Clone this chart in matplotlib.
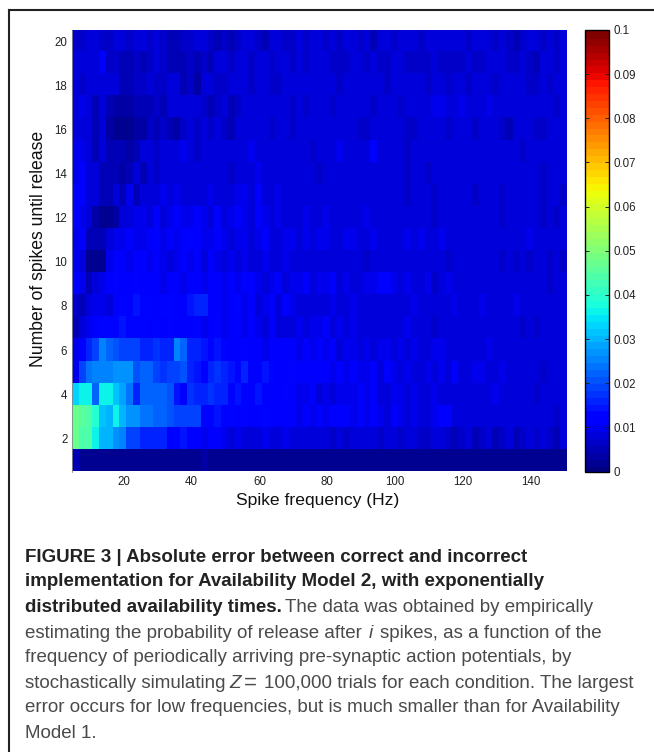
import numpy as np
import matplotlib
matplotlib.use('Agg')
import matplotlib.pyplot as plt
from matplotlib.lines import Line2D

plt.rcParams['font.family'] = ['Liberation Sans', 'DejaVu Sans']

# error values in units of 0.001, one entry per 2 Hz
row_01 = [6,2,2,2,2,3,3,2,3,3, 3,2,3,2,3,3,3,2,3,4, 3,2,2,2,2,3,2,2,2,2, 2,2,2,2,2,2,2,2,2,3, 2,2,2,2,2,2,2,2,2,2, 2,2,2,2,2,2,2,2,2,2, 2,2,2,2,2,2,2,2,2,2, 2,2,2]
row_02 = [48,45,44,36,31,30,27,25,20,19, 17,16,16,16,11,14,15,12,12,10, 11,12,10,9,10,9,9,8,10,9, 9,10,9,8,8,8,9,8,7,8, 7,8,9,8,8,7,8,8,7,8, 8,7,7,8,8,7,6,7,8,6, 7,8,6,7,8,6,7,8,7,8, 7,6,8]
row_03 = [47,46,45,40,32,31,37,30,28,28, 24,24,23,23,21,19,19,19,19,14, 13,15,12,14,11,13,12,11,13,12, 11,12,12,10,11,10,11,10,11,12, 11,10,11,10,11,10,9,11,10,9, 10,9,9,10,11,11,9,9,8,9, 8,9,8,8,9,8,9,8,8,9, 9,7,8]
row_04 = [33,37,36,23,37,37,32,29,24,17, 23,23,23,22,21,15,12,18,17,17, 18,17,16,14,15,13,11,15,12,11, 12,13,11,10,10,11,9,10,9,10, 10,10,11,10,11,9,9,10,10,9, 10,9,8,10,9,9,9,8,9,9, 9,8,10,8,9,8,9,8,7,9, 8,8,9]
row_05 = [10,19,24,25,25,26,27,28,28,21, 23,22,20,18,20,19,21,17,15,11, 17,18,16,15,14,17,12,11,15,13, 12,11,13,11,12,11,12,11,10,11, 10,11,10,10,11,9,11,10,9,10, 9,9,10,9,10,9,11,9,9,10, 10,9,8,10,9,9,8,9,8,7, 8,8,9]
row_06 = [10,11,17,19,26,22,21,19,19,19, 16,17,18,17,16,26,23,17,16,15, 14,15,13,11,12,14,11,12,10,12, 11,12,11,10,11,10,11,10,11,9, 10,10,9,10,8,10,10,9,10,9, 10,9,9,10,10,8,9,9,9,8, 9,10,9,8,9,8,9,9,8,8, 9,8,9]
row_07 = [6,9,10,12,13,14,14,15,13,13, 14,12,13,12,13,12,11,12,13,10, 11,13,10,12,11,10,12,10,9,11, 9,8,9,10,9,10,10,11,9,10, 9,10,9,9,8,9,9,9,8,10, 8,9,9,7,9,8,9,8,8,9, 8,8,9,8,9,8,7,8,7,8, 9,8,8]
row_08 = [7,6,9,10,10,9,11,13,12,15, 14,13,11,13,14,11,12,15,16,16, 12,11,10,11,13,10,11,9,10,11, 9,11,10,8,9,8,9,9,10,9, 9,10,8,9,9,8,8,9,8,8, 10,9,8,8,8,9,10,9,8,8, 10,9,9,8,9,10,9,8,8,9, 8,8,8]
row_09 = [11,10,6,9,10,11,13,12,11,13, 11,12,12,10,12,12,10,11,11,10, 12,11,10,11,10,11,11,10,9,10, 11,9,10,10,11,9,10,10,11,9, 10,9,9,10,10,11,11,10,9,10, 8,9,10,7,8,10,9,8,9,9, 8,9,9,8,9,8,9,8,9,8, 7,8,8]
row_10 = [10,9,3,3,3,10,11,12,10,11, 11,10,11,10,9,10,11,10,11,9, 11,10,9,10,9,10,9,9,10,8, 9,10,9,8,8,9,8,8,8,8, 9,9,8,7,9,8,8,9,8,8, 8,9,8,9,8,7,8,9,8,8, 9,8,8,7,8,7,8,7,8,8, 7,8,7]
row_11 = [10,11,5,5,6,9,10,10,11,10, 10,12,11,10,11,10,11,11,12,10, 10,11,10,9,10,10,9,10,11,9, 9,10,10,8,10,9,10,10,9,9, 10,10,9,9,10,8,9,9,9,10, 9,10,9,8,10,9,8,9,9,8, 9,8,9,8,9,9,9,10,9,8, 9,9,8]
row_12 = [11,10,9,4,3,3,4,8,9,10, 10,9,11,9,10,11,10,10,12,10, 9,11,9,10,11,10,9,11,10,9, 10,9,8,9,10,9,8,10,9,8, 9,8,9,10,9,8,9,9,8,9, 9,9,8,7,9,9,8,9,9,8, 9,8,8,7,9,8,8,9,8,7, 8,7,8]
row_13 = [11,11,9,9,6,6,9,5,10,6, 8,8,9,10,9,10,8,9,8,8, 10,9,8,9,10,10,9,11,9,9, 10,9,8,9,8,9,8,9,8,8, 9,8,8,9,8,8,9,9,8,7, 8,8,8,7,8,8,8,8,8,7, 8,9,8,7,8,8,9,8,8,7, 8,8,7]
row_14 = [10,11,8,9,6,5,5,4,5,8, 5,8,7,8,8,9,9,9,8,9, 8,9,8,7,9,9,8,10,8,9, 8,9,8,8,9,8,7,8,9,8, 8,9,8,9,8,9,8,8,9,7, 8,8,7,8,8,9,9,8,8,8, 8,9,8,9,8,8,9,8,8,7, 8,9,8]
row_15 = [10,10,9,6,8,6,6,6,4,5, 8,9,7,8,8,9,10,9,7,8, 9,8,8,9,8,8,10,9,8,9, 8,8,9,8,8,7,9,8,9,10, 9,9,8,9,11,9,8,9,8,7, 9,8,8,8,8,9,8,8,8,9, 9,8,9,8,8,8,7,8,8,9, 8,8,9]
row_16 = [8,9,9,6,8,4,3,3,3,4, 4,7,5,7,5,4,7,8,7,8, 7,9,7,5,9,8,9,8,8,7, 8,8,7,9,8,8,9,8,8,9, 8,8,7,7,9,8,8,9,8,7, 7,8,8,9,8,7,8,9,8,7, 9,8,8,7,6,8,8,9,7,7, 8,9,8]
row_17 = [9,10,9,6,8,6,4,4,4,5, 6,5,7,5,8,9,8,8,9,7, 5,7,9,5,7,8,8,9,8,8, 9,8,7,8,7,8,9,8,7,8, 8,9,8,8,7,9,8,8,7,8, 9,8,9,10,10,9,9,10,9,9, 9,10,9,8,9,8,9,9,9,8, 8,7,8]
row_18 = [8,7,9,8,8,8,9,6,5,7, 7,9,7,7,8,9,5,7,4,8, 9,7,7,8,9,8,7,9,8,7, 7,8,9,8,8,9,8,9,8,7, 8,8,9,8,8,8,7,9,8,8, 9,8,7,8,8,7,8,9,7,8, 8,8,7,8,8,9,8,7,7,8, 7,8,9]
row_19 = [8,8,9,9,11,7,7,5,6,7, 5,7,8,7,5,5,5,7,5,7, 5,8,9,7,8,8,7,8,8,7, 8,8,7,9,7,8,8,8,7,7, 7,8,8,7,8,7,7,8,8,7, 7,7,7,8,7,7,7,7,8,7, 7,8,8,8,7,7,8,7,6,8, 8,7,8]
row_20 = [7,7,8,8,7,7,9,8,7,8, 8,7,8,7,5,5,7,7,8,9, 7,5,7,5,7,8,8,7,5,8, 9,7,7,8,7,8,8,7,8,7, 8,8,7,8,6,8,8,7,8,8, 8,7,8,8,8,8,8,8,7,8, 8,8,7,8,7,6,7,8,8,7, 8,7,8]

x_ticks = [20, 40, 60, 80, 100, 120, 140]
y_ticks = [2, 4, 6, 8, 10, 12, 14, 16, 18, 20]
cbar_ticks = [0, 0.01, 0.02, 0.03, 0.04, 0.05, 0.06, 0.07, 0.08, 0.09, 0.1]
cbar_labels = ['0', '0.01', '0.02', '0.03', '0.04', '0.05', '0.06', '0.07', '0.08', '0.09', '0.1']

W, H = 654, 752
BODY = '#4a4a4a'
FS = 13.5


def px_text(fig, x, y, s, **kw):
    return fig.text(x / W, 1 - y / H, s, va='center', ha='left', **kw)


grid = np.array([row_01, row_02, row_03, row_04, row_05, row_06, row_07, row_08, row_09, row_10,
                 row_11, row_12, row_13, row_14, row_15, row_16, row_17, row_18, row_19, row_20]) / 1000.0

fig = plt.figure(figsize=(W / 100, H / 100), dpi=100)
ax = fig.add_axes([71.5 / W, 1 - 471.5 / H, 494.5 / W, 441.5 / H])
cax = fig.add_axes([585 / W, 1 - 471.5 / H, 24 / W, 441.5 / H])

im = ax.imshow(grid, origin='lower', aspect='auto', cmap=plt.get_cmap('jet', 64), vmin=0, vmax=0.1,
               extent=[4.5, 150.5, 0.5, 20.5], interpolation='nearest')
ax.set_xticks(x_ticks)
ax.set_yticks(y_ticks)
ax.tick_params(length=0, labelsize=8.3, colors='#222222', pad=3)
for s in ax.spines.values():
    s.set_visible(False)
ax.spines['left'].set_visible(True)
ax.spines['left'].set_color('#888888')
ax.spines['left'].set_linewidth(0.6)

fig.text(318 / W, 1 - 500 / H, 'Spike frequency (Hz)', ha='center', va='center', fontsize=12.6, color='#111111')
fig.text(39 / W, 1 - 249 / H, 'Number of spikes until release', ha='center', va='center', rotation=90,
         fontsize=12.7, color='#111111')

cb = fig.colorbar(im, cax=cax)
cb.set_ticks(cbar_ticks)
cb.set_ticklabels(cbar_labels)
cb.solids.set_edgecolor('face')
cb.outline.set_linewidth(1.0)
cax.tick_params(direction='in', length=3, width=0.7, left=True, right=True, labelsize=8.3, pad=3, colors='#222222')

# page frame of the figure panel
fig.add_artist(Line2D([9 / W, 9 / W], [0, 1 - 10 / H], color='#222222', lw=1.5))
fig.add_artist(Line2D([8.5 / W, 1], [1 - 10 / H, 1 - 10 / H], color='#222222', lw=1.5))

bold = dict(fontsize=FS, fontweight='bold', color='#222222')
body = dict(fontsize=FS, color=BODY)
px_text(fig, 25, 557, 'FIGURE 3 | Absolute error between correct and incorrect', **bold)
px_text(fig, 25, 582, 'implementation for Availability Model 2, with exponentially', **bold)
px_text(fig, 25, 608, 'distributed availability times.', **bold)
px_text(fig, 285, 608, 'The data was obtained by empirically', **body)
px_text(fig, 25, 633, 'estimating the probability of release after', **body)
px_text(fig, 369, 633, 'i', fontsize=FS, color=BODY, style='italic')
px_text(fig, 380, 633, 'spikes, as a function of the', **body)
px_text(fig, 25, 658, 'frequency of periodically arriving pre-synaptic action potentials, by', **body)
px_text(fig, 25, 683, 'stochastically simulating', **body)
px_text(fig, 229, 683, 'Z', fontsize=FS, color=BODY, style='italic')
px_text(fig, 244, 683, '=', fontsize=16, color=BODY)
px_text(fig, 264, 683, '100,000 trials for each condition. The largest', **body)
px_text(fig, 25, 708, 'error occurs for low frequencies, but is much smaller than for Availability', **body)
px_text(fig, 25, 734, 'Model 1.', **body)

fig.savefig('out.png', dpi=100)
